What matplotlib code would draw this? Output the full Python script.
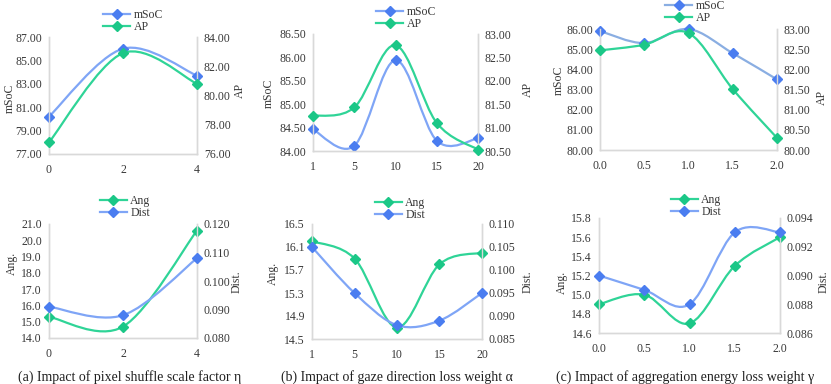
import numpy as np
import matplotlib
matplotlib.use("Agg")
from matplotlib import pyplot as plt
from matplotlib.path import Path
from matplotlib.patches import PathPatch
from matplotlib.lines import Line2D

plt.rcParams["font.family"] = ["Liberation Serif", "DejaVu Serif"]

# ---------------------------------------------------------------------------
# data
# ---------------------------------------------------------------------------
a_x = ["0", "2", "4"]
a_msoc = [80.2, 86.0, 83.7]
a_ap = [76.8, 82.9, 80.8]
a_ang = [15.3, 14.7, 20.6]
a_dist = [0.091, 0.088, 0.108]

b_x = ["1", "5", "10", "15", "20"]
b_msoc = [84.46, 84.11, 85.94, 84.22, 84.27]
b_ap = [81.25, 81.43, 82.76, 81.10, 80.53]
b_ang = [16.2, 15.9, 14.7, 15.8, 16.0]
b_dist = [0.105, 0.095, 0.088, 0.089, 0.095]

c_x = ["0.0", "0.5", "1.0", "1.5", "2.0"]
c_msoc = [85.9, 85.3, 86.0, 84.8, 83.5]
c_ap = [82.47, 82.61, 82.9, 81.51, 80.3]
c_ang = [14.9, 15.0, 14.7, 15.3, 15.6]
c_dist = [0.090, 0.089, 0.088, 0.093, 0.093]

captions = [
    "(a) Impact of pixel shuffle scale factor η",
    "(b) Impact of gaze direction loss weight α",
    "(c) Impact of aggregation energy loss weight γ",
]

BLUE_M, BLUE_L = "#4A7DF0", "#7FA5F6"
GREEN_M, GREEN_L = "#1BC787", "#2FD497"
SPINE = "#D9D9D9"
TXT = "#383838"

W, H = 831, 384
fig = plt.figure(figsize=(W / 100, H / 100), dpi=100)


def px_box(left, top, right, bottom):
    return [left / W, 1 - bottom / H, (right - left) / W, (bottom - top) / H]


def smooth_path(xs, ys):
    # excel-like smoothed line: cubic bezier through the points
    verts = [(xs[0], ys[0])]
    codes = [Path.MOVETO]
    n = len(xs)
    for i in range(n - 1):
        p0 = max(i - 1, 0)
        p3 = min(i + 2, n - 1)
        c1 = (xs[i] + (xs[i + 1] - xs[p0]) / 6, ys[i] + (ys[i + 1] - ys[p0]) / 6)
        c2 = (xs[i + 1] - (xs[p3] - xs[i]) / 6, ys[i + 1] - (ys[p3] - ys[i]) / 6)
        verts += [c1, c2, (xs[i + 1], ys[i + 1])]
        codes += [Path.CURVE4] * 3
    return Path(verts, codes)


def draw_series(ax, y, line_c, mark_c):
    xs = list(range(len(y)))
    ax.add_patch(PathPatch(smooth_path(xs, y), fill=False, edgecolor=line_c,
                           lw=1.6, clip_on=False, zorder=3))
    ax.plot(xs, y, ls="none", marker="D", ms=5, color=mark_c, clip_on=False, zorder=4)


def panel(box, xlabels, left_y, right_y, left_ticks, right_ticks, lfmt, rfmt, left_c, right_c):
    ax = fig.add_axes(px_box(*box))
    ax2 = ax.twinx()
    draw_series(ax, left_y, *left_c)
    draw_series(ax2, right_y, *right_c)
    n = len(xlabels)
    ax.set_xlim(0, n - 1)
    ax.set_xticks(range(n))
    ax.set_xticklabels(xlabels)
    ax.set_ylim(left_ticks[0], left_ticks[-1])
    ax.set_yticks(left_ticks)
    ax.set_yticklabels([lfmt % t for t in left_ticks])
    ax2.set_ylim(right_ticks[0], right_ticks[-1])
    ax2.set_yticks(right_ticks)
    ax2.set_yticklabels([rfmt % t for t in right_ticks])
    for a in (ax, ax2):
        a.tick_params(length=0, labelsize=8.5, colors=TXT, pad=5)
        a.tick_params(axis="x", pad=7)
        for side in ("left", "right", "bottom"):
            a.spines[side].set_color(SPINE)
            a.spines[side].set_linewidth(1.0)
        a.spines["top"].set_visible(False)
        a.patch.set_visible(False)
    return ax, ax2


specs = [
    dict(box=(49, 37, 197, 154), xl=a_x, ly=a_msoc, ry=a_ap,
         lt=np.arange(77, 87.1, 2), rt=np.arange(76, 84.1, 2), lf="%.2f", rf="%.2f",
         lc=(BLUE_L, BLUE_M), rc=(GREEN_L, GREEN_M), names=("mSoC", "AP"),
         labels=("mSoC", "AP"), leg=(133, 21), ylab=(10, 98), y2lab=(240, 90)),
    dict(box=(313, 34, 478, 151), xl=b_x, ly=b_msoc, ry=b_ap,
         lt=np.arange(84, 86.51, 0.5), rt=np.arange(80.5, 83.01, 0.5), lf="%.2f", rf="%.2f",
         lc=(BLUE_L, BLUE_M), rc=(GREEN_L, GREEN_M), names=("mSoC", "AP"),
         labels=("mSoC", "AP"), leg=(406, 18), ylab=(269, 93), y2lab=(528, 89)),
    dict(box=(600, 29, 777, 150), xl=c_x, ly=c_msoc, ry=c_ap,
         lt=np.arange(80, 86.1, 1), rt=np.arange(80, 83.01, 0.5), lf="%.2f", rf="%.2f",
         lc=("#8AAEE2", BLUE_M), rc=(GREEN_L, GREEN_M), names=("mSoC", "AP"),
         labels=("mSoC", "AP"), leg=(695, 12), ylab=(559, 80), y2lab=(822, 97)),
    dict(box=(49, 224, 197, 338), xl=a_x, ly=a_ang, ry=a_dist,
         lt=np.arange(14, 21.1, 1), rt=np.arange(0.08, 0.1201, 0.01), lf="%.1f", rf="%.3f",
         lc=(GREEN_L, GREEN_M), rc=(BLUE_L, BLUE_M), names=("Ang", "Dist"),
         labels=("Ang.", "Dist."), leg=(125, 207), ylab=(12, 263), y2lab=(237, 282)),
    dict(box=(312, 224, 482, 339), xl=b_x, ly=b_ang, ry=b_dist,
         lt=np.arange(14.5, 16.51, 0.4), rt=np.arange(0.085, 0.1101, 0.005), lf="%.1f", rf="%.3f",
         lc=(GREEN_L, GREEN_M), rc=(BLUE_L, BLUE_M), names=("Ang", "Dist"),
         labels=("Ang.", "Dist."), leg=(400, 209), ylab=(273, 273), y2lab=(528, 282)),
    dict(box=(599, 218, 780, 333), xl=c_x, ly=c_ang, ry=c_dist,
         lt=np.arange(14.6, 15.81, 0.2), rt=np.arange(0.086, 0.0941, 0.002), lf="%.1f", rf="%.3f",
         lc=(GREEN_L, GREEN_M), rc=(BLUE_L, BLUE_M), names=("Ang", "Dist"),
         labels=("Ang.", "Dist."), leg=(696, 206), ylab=(562, 282), y2lab=(824, 282)),
]

for s in specs:
    ax, ax2 = panel(s["box"], s["xl"], s["ly"], s["ry"], s["lt"], s["rt"], s["lf"], s["rf"],
                    s["lc"], s["rc"])
    hs = [Line2D([], [], color=c[0], lw=1.6, marker="D", ms=5, mfc=c[1], mec=c[1])
          for c in (s["lc"], s["rc"])]
    fig.legend(hs, list(s["names"]), loc="center", bbox_to_anchor=(s["leg"][0] / W, 1 - s["leg"][1] / H),
               frameon=False, fontsize=8.5, handlelength=2.3, labelspacing=0.05,
               handletextpad=0.3, borderpad=0, labelcolor=TXT)
    fig.text(s["ylab"][0] / W, 1 - s["ylab"][1] / H, s["labels"][0], rotation=90,
             ha="center", va="center", fontsize=8.5, color=TXT)
    fig.text(s["y2lab"][0] / W, 1 - s["y2lab"][1] / H, s["labels"][1],
             rotation=90, ha="center", va="center", fontsize=8.5, color=TXT)

cap_x = [130, 397, 685]
for cx, cap in zip(cap_x, captions):
    fig.text(cx / W, 1 - 377 / H, cap, ha="center", va="center", fontsize=10, color="#202020")

fig.savefig("out.png", dpi=100)
